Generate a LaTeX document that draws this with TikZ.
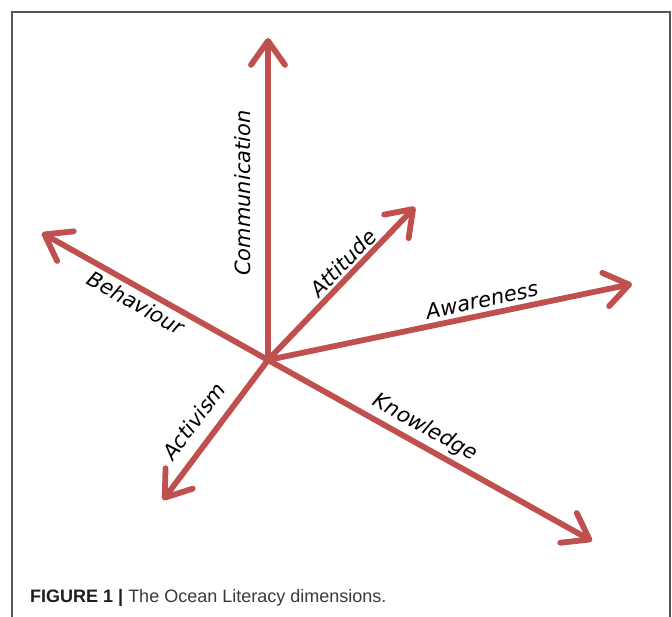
\documentclass[tikz,border=0pt]{standalone}
\usepackage{fontspec}
\setmainfont{DejaVu Sans}
\newfontfamily\labfont{DejaVu Sans}
\newfontfamily\capfont{Liberation Sans}
\usetikzlibrary{arrows.meta}
\definecolor{axisred}{HTML}{C0504D}
\definecolor{capgray}{HTML}{3A3A3A}
\definecolor{capdark}{HTML}{1E1E1E}
\definecolor{framegray}{HTML}{555555}
\tikzset{
  x=1pt, y=1pt,
  axisarrow/.style={draw=axisred, line width=5.8pt, line cap=round,
    -{Straight Barb[length=24pt,width=34pt,line cap=round,line join=round]}},
  axislabel/.style={font=\labfont\itshape\fontsize{21}{25}\selectfont, inner sep=0pt, text=black},
}
\begin{document}
\begin{tikzpicture}
\useasboundingbox (0,0) rectangle (672,616);
\fill[white] (0,0) rectangle (672,616);
% frame
\coordinate (fbl) at (12,-2);
\coordinate (ftl) at (12,604);
\coordinate (ftr) at (670,604);
\coordinate (fbr) at (670,-2);
\draw[framegray, line width=1.3pt] (fbl) -- (ftl) -- (ftr) -- (fbr);
% axes
\coordinate (O) at (268,256);
\coordinate (com) at (268,578);
\coordinate (beh) at (42,383);
\coordinate (att) at (415,409);
\coordinate (awa) at (632,332);
\coordinate (kno) at (592,75);
\coordinate (act) at (163,116);
\foreach \t in {com,beh,att,awa,kno,act}{
  \draw[axisarrow] (O) -- (\t);
}
% labels
\node[axislabel, rotate=90] (lcom) at (243,423) {Communication};
\node[axislabel, rotate=-29.2] (lbeh) at (136,313) {Behaviour};
\node[axislabel, rotate=46] (latt) at (343,353) {Attitude};
\node[axislabel, rotate=11.8] (lawa) at (482,316) {Awareness};
\node[axislabel, rotate=53] (lact) at (194,195) {Activism};
\node[axislabel, rotate=-29.2] (lkno) at (425,188) {Knowledge};
% caption
\node[anchor=base west, inner sep=0pt, text=capgray, font=\capfont\fontsize{18}{22}\selectfont] (cap) at (30,14)
  {\textcolor{capdark}{\textbf{FIGURE 1 |}} The Ocean Literacy dimensions.};
\end{tikzpicture}
\end{document}
